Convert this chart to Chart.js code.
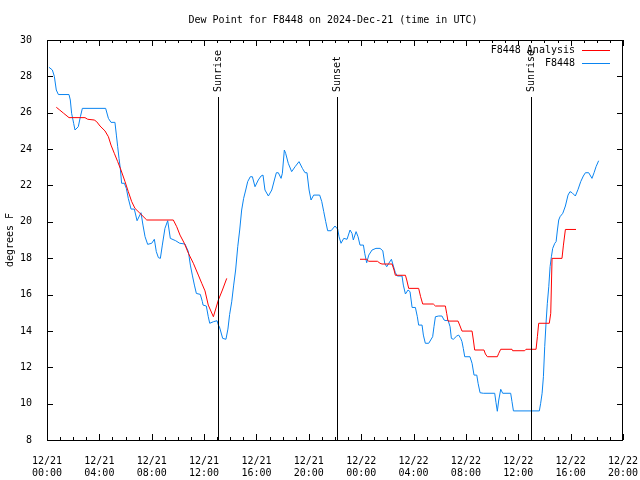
<!DOCTYPE html>
<html>
<head>
<meta charset="utf-8">
<script src="https://cdn.jsdelivr.net/npm/chart.js@4/dist/chart.umd.min.js"></script>
<style>
  body { margin: 0; background: #fff; }
  canvas { display: block; }
</style>
</head>
<body>
<canvas id="dewChart" width="640" height="480"></canvas>
<script>
// hours since 12/21 00:00 UTC
const obsTimes = [0.15, 0.41, 0.56, 0.71, 0.87, 1.68, 1.78, 1.88, 2.04, 2.14, 2.39, 2.55, 2.70, 4.48, 4.69, 4.89, 5.19, 5.30, 5.40, 5.50,
  5.60, 5.70, 5.91, 6.06, 6.21, 6.42, 6.67, 6.88, 7.18, 7.33, 7.49, 7.69, 8.00, 8.20, 8.35, 8.51, 8.66, 8.81, 9.01, 9.22,
  9.42, 9.83, 10.14, 10.54, 10.80, 10.95, 11.10, 11.26, 11.41, 11.71, 11.87, 11.92, 12.17, 12.32, 12.43, 12.73, 12.99, 13.09, 13.17, 13.42,
  13.67, 13.82, 13.95, 14.11, 14.26, 14.41, 14.57, 14.72, 14.87, 15.02, 15.18, 15.33, 15.53, 15.69, 15.89, 16.14, 16.35, 16.50, 16.65, 16.91,
  17.17, 17.37, 17.52, 17.67, 17.88, 17.98, 18.13, 18.23, 18.43, 18.69, 18.95, 19.25, 19.51, 19.71, 19.86, 20.02, 20.17, 20.37, 20.83, 20.99,
  21.14, 21.29, 21.44, 21.70, 22.00, 22.21, 22.31, 22.46, 22.67, 22.92, 23.15, 23.30, 23.40, 23.61, 23.76, 23.91, 24.17, 24.27, 24.42, 24.58,
  24.83, 25.13, 25.44, 25.65, 25.80, 25.95, 26.10, 26.31, 26.46, 26.61, 26.76, 27.12, 27.22, 27.38, 27.58, 27.73, 27.89, 28.14, 28.29, 28.39,
  28.65, 28.75, 28.90, 29.16, 29.31, 29.46, 29.56, 29.67, 29.92, 30.17, 30.33, 30.48, 30.63, 30.79, 30.89, 31.04, 31.30, 31.45, 31.60, 31.70,
  31.80, 31.91, 32.31, 32.47, 32.62, 32.83, 32.93, 33.08, 33.33, 34.20, 34.30, 34.40, 34.51, 34.66, 34.81, 35.42, 35.52, 35.63, 37.61, 37.71,
  37.82, 37.92, 38.02, 38.12, 38.22, 38.33, 38.43, 38.53, 38.63, 38.79, 38.89, 38.99, 39.09, 39.19, 39.40, 39.60, 39.80, 39.95, 40.11, 40.36,
  40.57, 40.77, 40.97, 41.13, 41.38, 41.63, 41.79, 41.94, 42.14];
const obsDew = [28.50, 28.35, 28.0, 27.25, 27.0, 27.0, 26.7, 25.97, 25.4, 25.05, 25.23, 25.78, 26.24, 26.24, 25.69, 25.47, 25.47, 24.77, 24.13, 23.49,
  22.94, 22.12, 22.12, 21.84, 21.29, 20.70, 20.70, 20.06, 20.50, 19.82, 19.18, 18.76, 18.82, 19.04, 18.36, 18.03, 17.99, 18.72, 19.64, 20.06,
  19.09, 18.96, 18.82, 18.78, 18.36, 17.62, 17.07, 16.52, 16.06, 16.01, 15.61, 15.42, 15.37, 14.78, 14.42, 14.51, 14.56, 14.32, 14.23, 13.59,
  13.54, 14.1, 14.9, 15.6, 16.52, 17.35, 18.63, 19.55, 20.65, 21.29, 21.75, 22.21, 22.48, 22.48, 21.93, 22.30, 22.52, 22.57, 21.75, 21.42,
  21.75, 22.30, 22.70, 22.70, 22.39, 22.67, 23.95, 23.77, 23.22, 22.76, 23.03, 23.31, 22.94, 22.70, 22.70, 21.75, 21.20, 21.47, 21.47, 21.11,
  20.56, 20.01, 19.51, 19.51, 19.77, 19.59, 19.18, 18.82, 19.09, 19.04, 19.55, 19.36, 19.0, 19.46, 19.18, 18.72, 18.72, 18.27, 17.75, 18.17,
  18.45, 18.54, 18.54, 18.41, 17.71, 17.53, 17.71, 17.94, 17.57, 17.20, 17.02, 17.02, 16.52, 16.03, 16.25, 16.16, 15.29, 15.29, 14.78, 14.32,
  14.32, 13.77, 13.32, 13.32, 13.50, 13.68, 14.23, 14.78, 14.82, 14.82, 14.60, 14.56, 14.60, 14.23, 13.59, 13.54, 13.72, 13.77, 13.59, 13.41,
  13.04, 12.58, 12.58, 12.22, 11.57, 11.57, 11.12, 10.60, 10.57, 10.57, 10.05, 9.58, 10.2, 10.79, 10.57, 10.57, 10.11, 9.60, 9.60, 10.02,
  10.57, 11.48, 13.13, 14.42, 15.52, 16.43, 17.53, 18.08, 18.54, 18.82, 18.91, 19.55, 20.10, 20.28, 20.47, 20.87, 21.47, 21.66, 21.60, 21.42,
  21.79, 22.21, 22.52, 22.70, 22.70, 22.39, 22.70, 23.03, 23.36];

const anaTimes = [0.71, 0.97, 1.27, 1.53, 1.68, 2.90, 3.11, 3.61, 3.79, 4.05, 4.43, 4.69, 4.89, 5.14, 5.40, 5.65, 5.96, 6.21, 6.47, 6.72,
  7.10, 7.62, 9.65, 9.91, 10.16, 10.49, 10.80, 11.18, 11.56, 11.82, 12.07, 12.32, 12.71, 13.09, 13.40, 13.73,
  18.0,
  23.91, 24.42, 24.58, 25.24, 25.44, 25.59, 26.36, 26.51, 26.61, 27.38, 27.48, 27.63, 28.39, 28.54, 28.70, 29.51, 29.67, 30.43, 30.53,
  30.63, 31.40, 31.55, 31.70, 32.47, 32.57, 32.67, 33.38, 33.49, 33.64, 34.40, 34.51, 34.66, 35.52, 35.57, 36.49, 36.59, 37.36, 37.46, 37.56,
  38.37, 38.48, 38.58, 39.34, 39.45, 39.60, 40.41];
const anaDew = [26.30, 26.15, 25.97, 25.82, 25.73, 25.73, 25.64, 25.60, 25.51, 25.27, 25.0, 24.68, 24.22, 23.77, 23.31, 22.85, 22.21, 21.66, 21.11, 20.74,
  20.47, 20.10, 20.10, 19.73, 19.27, 18.82, 18.27, 17.72, 17.07, 16.62, 16.20, 15.42, 14.78, 15.70, 16.25, 16.89,
  null,
  17.94, 17.94, 17.83, 17.83, 17.72, 17.68, 17.68, 17.35, 17.06, 17.06, 16.80, 16.34, 16.34, 15.88, 15.48, 15.48, 15.37, 15.37, 14.97,
  14.54, 14.54, 14.27, 13.99, 13.99, 13.50, 12.95, 12.95, 12.73, 12.58, 12.58, 12.77, 12.99, 12.99, 12.91, 12.91, 12.99, 12.99, 13.68, 14.42,
  14.42, 14.97, 17.99, 17.99, 18.72, 19.58, 19.58];

const xTickLabels = [['12/21', '00:00'], ['12/21', '04:00'], ['12/21', '08:00'], ['12/21', '12:00'], ['12/21', '16:00'], ['12/21', '20:00'],
  ['12/22', '00:00'], ['12/22', '04:00'], ['12/22', '08:00'], ['12/22', '12:00'], ['12/22', '16:00'], ['12/22', '20:00']];

const eventTimes = [13.06, 22.15, 36.97];
const eventNames = ['Sunrise', 'Sunset', 'Sunrise'];

const FONT = '10px "DejaVu Sans Mono", monospace';
const RED = '#ff0000';
const BLUE = '#0a84f0';

Chart.defaults.font.family = '"DejaVu Sans Mono", monospace';
Chart.defaults.font.size = 10;
Chart.defaults.color = '#000';

// gnuplot look: box border, inward tics, event markers, title, legend
const gnuplotDecor = {
  id: 'gnuplotDecor',
  afterDraw(chart) {
    const ctx = chart.ctx;
    const a = chart.chartArea;
    const x = chart.scales.x;
    const y = chart.scales.y;
    ctx.save();
    ctx.strokeStyle = '#000';
    ctx.lineWidth = 1;
    ctx.strokeRect(a.left + 0.5, a.top + 0.5, a.right - a.left - 1, a.bottom - a.top);

    ctx.beginPath();
    for (let h = 0; h <= 44; h++) {
      const px = Math.round(x.getPixelForValue(h)) + 0.5;
      const len = h % 4 === 0 ? 6 : 3;
      ctx.moveTo(px, a.bottom);
      ctx.lineTo(px, a.bottom - len);
      ctx.moveTo(px, a.top);
      ctx.lineTo(px, a.top + len);
    }
    for (let v = 8; v <= 30; v += 2) {
      const py = Math.round(y.getPixelForValue(v)) + 0.5;
      ctx.moveTo(a.left, py);
      ctx.lineTo(a.left + 6, py);
      ctx.moveTo(a.right, py);
      ctx.lineTo(a.right - 6, py);
    }
    ctx.stroke();

    // sunrise / sunset lines
    ctx.font = FONT;
    ctx.fillStyle = '#000';
    eventTimes.forEach((t, i) => {
      const px = Math.round(x.getPixelForValue(t)) + 0.5;
      ctx.beginPath();
      ctx.moveTo(px, 97);
      ctx.lineTo(px, a.bottom);
      ctx.stroke();
      ctx.save();
      ctx.translate(px, 92);
      ctx.rotate(-Math.PI / 2);
      ctx.textAlign = 'left';
      ctx.textBaseline = 'middle';
      ctx.fillText(eventNames[i], 0, 0);
      ctx.restore();
    });

    // title
    ctx.textAlign = 'center';
    ctx.textBaseline = 'middle';
    ctx.fillText('Dew Point for F8448 on 2024-Dec-21 (time in UTC)', (a.left + a.right) / 2 - 2, 20);

    // y title
    ctx.save();
    ctx.translate(10, (a.top + a.bottom) / 2);
    ctx.rotate(-Math.PI / 2);
    ctx.fillText('degrees F', 0, 0);
    ctx.restore();

    // legend
    const rows = [['F8448 Analysis', RED], ['F8448', BLUE]];
    rows.forEach((r, i) => {
      const ly = 50 + i * 13;
      ctx.textAlign = 'right';
      ctx.fillStyle = '#000';
      ctx.fillText(r[0], 575, ly);
      ctx.strokeStyle = r[1];
      ctx.beginPath();
      ctx.moveTo(582, ly + 0.5);
      ctx.lineTo(610, ly + 0.5);
      ctx.stroke();
    });
    ctx.restore();
  }
};

new Chart(document.getElementById('dewChart'), {
  type: 'line',
  data: {
    datasets: [
      {
        label: 'F8448 Analysis',
        data: anaTimes.map((t, i) => ({ x: t, y: anaDew[i] })),
        borderColor: RED,
        borderWidth: 1,
        pointRadius: 0,
        tension: 0,
        spanGaps: false
      },
      {
        label: 'F8448',
        data: obsTimes.map((t, i) => ({ x: t, y: obsDew[i] })),
        borderColor: BLUE,
        borderWidth: 1,
        pointRadius: 0,
        tension: 0
      }
    ]
  },
  options: {
    responsive: false,
    animation: false,
    layout: { padding: { left: 0, top: 40, right: 17, bottom: 0 } },
    plugins: { legend: { display: false }, tooltip: { enabled: false } },
    scales: {
      x: {
        type: 'linear',
        min: 0,
        max: 44,
        grid: { display: false },
        border: { display: false },
        ticks: {
          stepSize: 4,
          autoSkip: false,
          maxRotation: 0,
          padding: 7,
          callback: (v) => xTickLabels[v / 4]
        },
        afterFit: (s) => {
          s.height = 40;
          s.paddingLeft = 0;
          s.paddingRight = 0;
        }
      },
      y: {
        min: 8,
        max: 30,
        grid: { display: false },
        border: { display: false },
        ticks: { stepSize: 2, padding: 7 },
        afterFit: (s) => {
          s.width = 47;
          s.paddingTop = 0;
          s.paddingBottom = 0;
        }
      }
    }
  },
  plugins: [gnuplotDecor]
});
</script>
</body>
</html>
